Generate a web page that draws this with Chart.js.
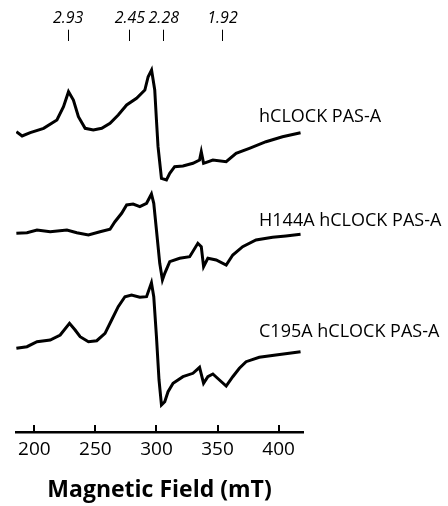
<!DOCTYPE html>
<html>
<head>
<meta charset="utf-8">
<script src="https://cdn.jsdelivr.net/npm/chart.js@4.4.1/dist/chart.umd.min.js"></script>
<style>
  html, body { margin: 0; padding: 0; background: #fff; }
</style>
</head>
<body>
<canvas id="epr" width="448" height="506"></canvas>
<script>
// field axis (mT)
const fieldMin = 185, fieldMax = 420;
const fieldTicks = [200, 250, 300, 350, 400];

// g-value markers along the top
const gFields = [227.7, 278.3, 306.0, 354.1];
const gLabels = ["2.93", "2.45", "2.28", "1.92"];

// traces, stacked with offsets (arbitrary units)
const seriesNames = ["hCLOCK PAS-A", "H144A hCLOCK PAS-A", "C195A hCLOCK PAS-A"];
const seriesOffsets = [300, 200, 100];
const labelField = 384;
const labelLift = [15, 11, 0];

// wild type
const wtField = [185.3,190.0,196.7,207.6,218.5,223.9,228.0,232.0,236.1,241.6,248.3,255.2,262.0,268.7,275.6,283.7,290.5,293.2,296.0,298.6,300.0,301.3,304.1,308.2,310.9,314.9,321.7,329.9,335.3,336.7,338.6,346.2,357.1,365.2,376.1,389.7,403.2,418.0];
const wtSignal = [0.3,-4,-0.7,3.7,12,25.3,40.3,32,15.3,3.7,2,3.7,8.7,17,27,33.7,42,55.3,62,42,12,-14.7,-46.3,-48,-41.3,-34.7,-34,-31.3,-28,-19.7,-31.3,-28,-29.7,-21.3,-16.3,-9.7,-4.7,-0.7];

// H144A
const h144Field = [185.3,194.0,202.2,213.0,226.7,234.8,244.3,253.8,262.0,266.0,271.5,275.6,280.9,286.4,291.9,295.9,297.8,300.0,302.7,304.9,306.8,310.9,319.0,327.2,333.9,336.7,338.6,342.1,348.9,357.1,362.5,370.6,381.5,395.1,406.0,418.0];
const h144Signal = [-1.3,-0.7,2,0.3,2,-0.7,-3,0.3,2.7,10.3,18.7,27,28,25.3,28.7,38,28.7,2,-31.3,-48,-41.3,-29.7,-26.3,-24.7,-11.3,-14.7,-34.7,-26.3,-28,-33,-23,-14.7,-8,-5.3,-4,-2.3];

// C195A
const c195Field = [185.3,194.0,202.2,213.0,221.2,228.8,233.4,237.5,244.3,251.1,257.9,263.3,268.7,274.2,279.6,286.4,291.9,295.9,297.8,300.0,302.1,304.1,306.8,309.5,313.6,321.7,329.9,335.3,338.6,342.1,346.2,351.6,357.1,362.5,367.9,373.4,384.2,397.8,408.7,418.0];
const c195Signal = [-16.3,-14.7,-9.7,-8,-3,8.7,2,-4.7,-9.7,-8.7,-1.3,12,25.3,35.3,37,34.7,35.3,49.3,35.3,-4.7,-48,-73,-69.7,-59.7,-51.3,-44.7,-41.3,-35.3,-51.3,-44.7,-42,-48,-54,-44.7,-36.3,-29.7,-25.3,-23,-21.3,-19.7];

const traces = [[wtField, wtSignal], [h144Field, h144Signal], [c195Field, c195Signal]];

Chart.defaults.font.family = "'Open Sans', sans-serif";
Chart.defaults.color = "#000";

// inward ticks on the field axis + trace names
const extras = {
  id: "extras",
  afterDraw(chart) {
    const ctx = chart.ctx, x = chart.scales.x, y = chart.scales.y;
    ctx.save();
    ctx.strokeStyle = "#000";
    ctx.lineWidth = 2;
    fieldTicks.forEach(v => {
      const px = Math.round(x.getPixelForValue(v));
      ctx.beginPath();
      ctx.moveTo(px, x.top);
      ctx.lineTo(px, x.top - 7);
      ctx.stroke();
    });
    ctx.fillStyle = "#000";
    ctx.font = "18px 'Open Sans'";
    ctx.textBaseline = "middle";
    ctx.textAlign = "left";
    seriesNames.forEach((name, i) => {
      ctx.fillText(name, x.getPixelForValue(labelField), y.getPixelForValue(seriesOffsets[i] + labelLift[i]));
    });
    ctx.restore();
  }
};

new Chart(document.getElementById("epr"), {
  type: "line",
  data: {
    datasets: traces.map(([f, s], i) => ({
      label: seriesNames[i],
      data: f.map((v, k) => ({ x: v, y: s[k] + seriesOffsets[i] })),
      borderColor: "#000",
      borderWidth: 3,
      pointRadius: 0,
      tension: 0,
      fill: false
    }))
  },
  options: {
    responsive: false,
    animation: false,
    layout: { padding: { left: 16, right: 145, top: 6.5, bottom: 2 } },
    plugins: { legend: { display: false }, tooltip: { enabled: false } },
    scales: {
      x: {
        type: "linear",
        position: "bottom",
        min: fieldMin,
        max: fieldMax,
        afterBuildTicks: s => { s.ticks = fieldTicks.map(v => ({ value: v })); },
        grid: { display: false, drawTicks: false },
        border: { display: true, color: "#000", width: 2.5 },
        ticks: {
          padding: 6.6,
          font: { size: 19 },
          maxRotation: 0,
          autoSkip: false
        },
        title: {
          display: true,
          text: "Magnetic Field (mT)",
          font: { size: 23, weight: "bold" },
          padding: { top: 8.4, bottom: 0 }
        }
      },
      x2: {
        type: "linear",
        position: "top",
        min: fieldMin,
        max: fieldMax,
        afterBuildTicks: s => { s.ticks = gFields.map(v => ({ value: v })); },
        grid: { drawOnChartArea: false, drawTicks: true, tickLength: 11, color: "#000", lineWidth: 1 },
        border: { display: false },
        ticks: {
          padding: 2,
          autoSkip: false,
          maxRotation: 0,
          font: { size: 16, style: "italic" },
          callback: (v, i) => gLabels[i]
        }
      },
      y: { display: false, min: 0, max: 391.3 }
    }
  },
  plugins: [extras]
});
</script>
</body>
</html>
